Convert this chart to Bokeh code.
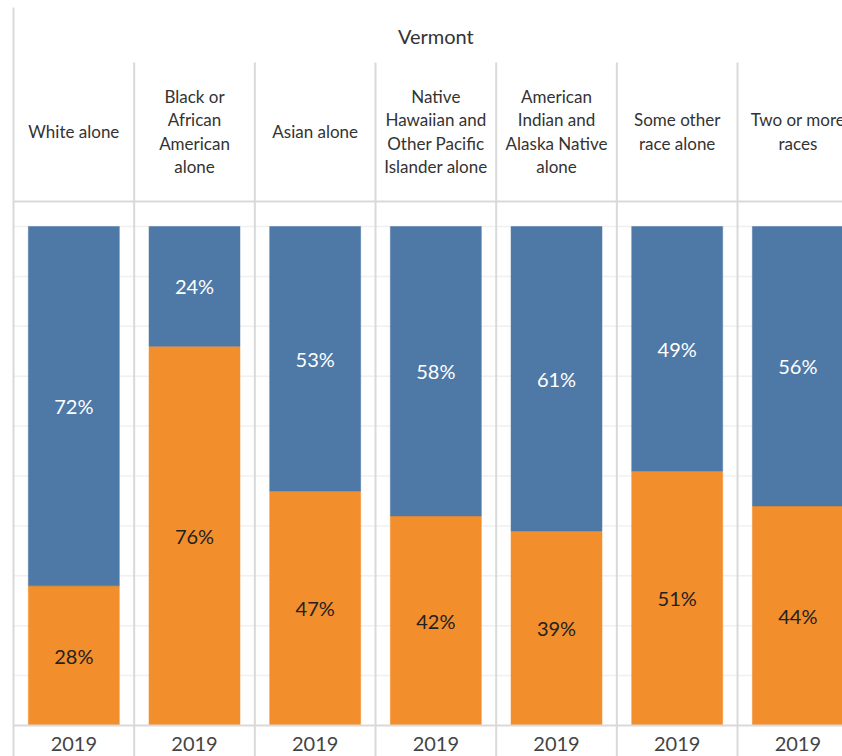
from bokeh.plotting import figure
from bokeh.models import ColumnDataSource, Range1d
from bokeh.core.properties import value
from bokeh.embed import file_html
from bokeh.resources import INLINE

# ---- data ----
state = "Vermont"
categories = [
    "White alone",
    "Black or\nAfrican\nAmerican\nalone",
    "Asian alone",
    "Native\nHawaiian and\nOther Pacific\nIslander alone",
    "American\nIndian and\nAlaska Native\nalone",
    "Some other\nrace alone",
    "Two or more\nraces",
]
year = "2019"
orange_share = [28, 76, 47, 42, 39, 51, 44]
blue_share = [72, 24, 53, 58, 61, 49, 56]

BLUE = "#4e79a7"
ORANGE = "#f28e2b"
LINE = "#d9d9d9"
GRID = "#f0f0f0"
FONT = "Lato"

n = len(categories)
xc = [i + 0.5 for i in range(n)]
blue_top = [o + b for o, b in zip(orange_share, blue_share)]

src = ColumnDataSource(dict(
    x=xc,
    cat=categories,
    year=[year] * n,
    o=orange_share,
    b=blue_share,
    btop=blue_top,
    o_mid=[o / 2 for o in orange_share],
    b_mid=[o + b / 2 for o, b in zip(orange_share, blue_share)],
    o_lab=[f"{o}%" for o in orange_share],
    b_lab=[f"{b}%" for b in blue_share],
    zero=[0] * n,
))

W, H = 842, 756
col_px = 120.67
left_px = 13
y_px = 4.99
y0_px = 725

p = figure(width=W, height=H, output_backend="svg", toolbar_location=None,
           x_range=Range1d(-left_px / col_px, (W - left_px) / col_px),
           y_range=Range1d(-(H - y0_px) / y_px, y0_px / y_px),
           x_axis_type=None, y_axis_type=None, min_border=0,
           outline_line_color=None)
p.xgrid.visible = False
p.ygrid.visible = False
p.background_fill_color = "white"
p.border_fill_color = "white"

y_top = y0_px / y_px
y_bot = -(H - y0_px) / y_px
x_right = (W - left_px) / col_px

# light gridlines every 10%
gy = list(range(10, 101, 10))
p.segment(x0=[0] * len(gy), x1=[x_right] * len(gy), y0=gy, y1=gy,
          line_color=GRID, line_width=1.5)

# bars
bw = 0.754
p.vbar(x="x", width=bw, bottom="zero", top="o", source=src,
       fill_color=ORANGE, line_color=ORANGE, line_width=0.5)
p.vbar(x="x", width=bw, bottom="o", top="btop", source=src,
       fill_color=BLUE, line_color=BLUE, line_width=0.5)

# value labels
p.text(x="x", y="o_mid", text="o_lab", source=src, text_align="center",
       text_baseline="middle", text_font=value(FONT), text_font_size="20px",
       text_color="#222222")
p.text(x="x", y="b_mid", text="b_lab", source=src, text_align="center",
       text_baseline="middle", text_font=value(FONT), text_font_size="20px",
       text_color="white")

# separators
hdr_line_y = (y0_px - 201) / y_px
col_line_top = (y0_px - 62) / y_px
seps = list(range(1, n))
p.segment(x0=seps, x1=seps, y0=[col_line_top] * len(seps), y1=[y_bot] * len(seps),
          line_color=LINE, line_width=2)
p.segment(x0=[0], x1=[0], y0=[(y0_px - 7) / y_px], y1=[y_bot], line_color=LINE, line_width=2)
p.segment(x0=[0, 0], x1=[x_right, x_right], y0=[hdr_line_y, 0], y1=[hdr_line_y, 0],
          line_color=LINE, line_width=2)

# headers
p.text(x="x", y=(y0_px - 131) / y_px, text="cat", source=src,
       text_align="center", text_baseline="middle", text_font=value(FONT),
       text_font_size="17px", text_color="#333333", text_line_height=1.1)
p.text(x=[n / 2], y=[(y0_px - 35) / y_px], text=[state], text_align="center",
       text_baseline="middle", text_font=value(FONT), text_font_size="20px",
       text_color="#333333")

# year labels
p.text(x="x", y=(y0_px - 743) / y_px, text="year", source=src,
       text_align="center", text_baseline="middle", text_font=value(FONT),
       text_font_size="20px", text_color="#444444")

open("out.html", "w").write(file_html(p, INLINE))
